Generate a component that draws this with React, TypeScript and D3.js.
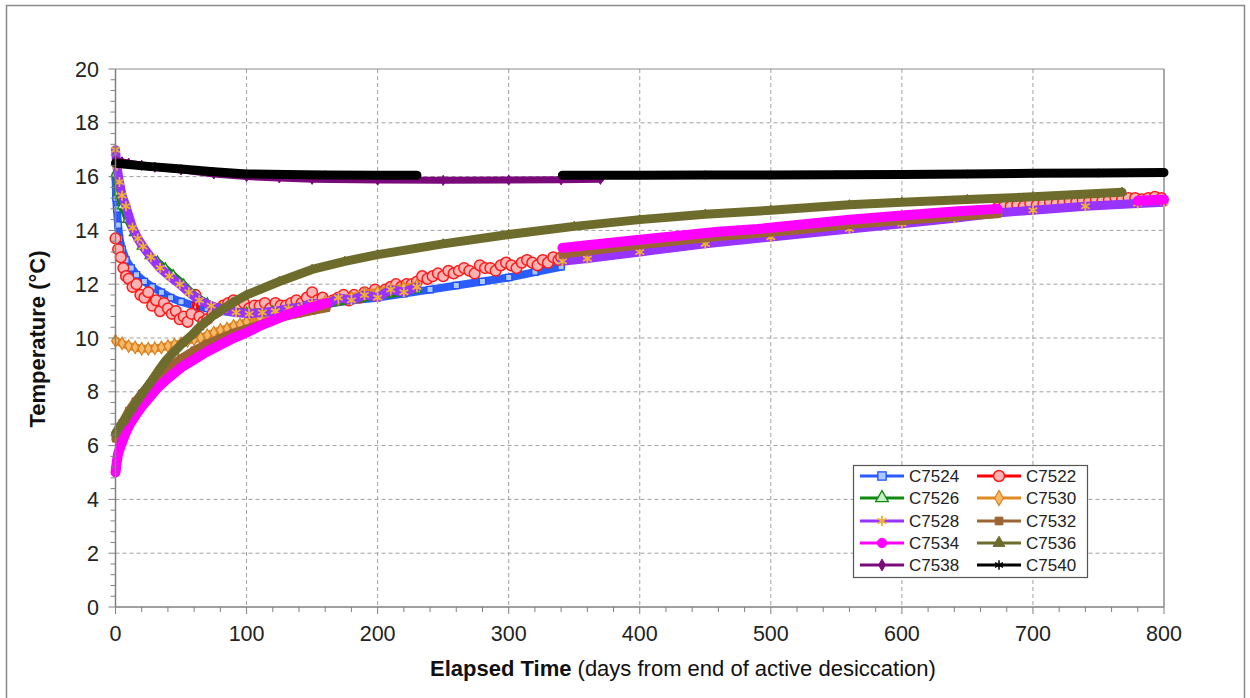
import React from "react";
import * as d3 from "d3";

type Pt = [number, number] | null;

// ---------- data (day, °C); null = logger gap ----------
const xTickValues = [0, 100, 200, 300, 400, 500, 600, 700, 800];
const yTickValues = [0, 2, 4, 6, 8, 10, 12, 14, 16, 18, 20];

const C7524: Pt[] = [
  [0, 16.0], [0.5, 15.2], [1, 14.8], [2, 14.2], [3, 13.7], [5, 13.3], [8, 12.9], [12, 12.6], [16, 12.35],
  [22, 12.1], [28, 11.9], [35, 11.7], [42, 11.5], [50, 11.35], [60, 11.2], [70, 11.1], [80, 11.0],
  [90, 10.95], [100, 10.95], [120, 11.0], [140, 11.1], [160, 11.25], [180, 11.4], [200, 11.5],
  [220, 11.65], [240, 11.8], [260, 11.95], [280, 12.1], [300, 12.25], [320, 12.45], [340, 12.65],
];

const C7522: Pt[] = [
  [0, 13.7], [2, 13.3], [4, 13.0], [6, 12.6], [8, 12.3], [10, 12.2], [13, 11.9], [16, 12.0], [19, 11.6],
  [22, 11.5], [25, 11.7], [28, 11.2], [31, 11.4], [34, 11.0], [37, 11.3], [40, 11.1], [43, 10.9],
  [46, 11.0], [49, 10.7], [52, 10.8], [55, 10.6], [58, 10.9], [61, 11.6], [64, 10.8], [67, 10.6],
  [70, 10.7], [74, 10.9], [78, 11.0], [82, 11.2], [86, 11.3], [90, 11.4], [94, 11.1], [98, 11.3],
  [102, 11.1], [106, 11.2], [110, 11.2], [114, 11.3], [118, 11.1], [122, 11.3], [126, 11.2], [130, 11.2],
  [134, 11.3], [138, 11.4], [142, 11.3], [146, 11.5], [150, 11.7], [154, 11.4], [158, 11.5], [162, 11.3],
  [166, 11.4], [170, 11.5], [174, 11.6], [178, 11.4], [182, 11.6], [186, 11.5], [190, 11.7], [194, 11.6],
  [198, 11.8], [202, 11.7], [206, 11.8], [210, 11.9], [214, 12.0], [218, 11.9], [222, 12.0], [226, 12.0],
  [230, 12.1], [234, 12.3], [238, 12.2], [242, 12.3], [246, 12.4], [250, 12.3], [254, 12.5], [258, 12.4],
  [262, 12.5], [266, 12.6], [270, 12.5], [274, 12.4], [278, 12.7], [282, 12.6], [286, 12.6], [290, 12.5],
  [294, 12.7], [298, 12.8], [302, 12.7], [306, 12.6], [310, 12.8], [314, 12.9], [318, 12.8], [322, 12.7],
  [326, 12.9], [330, 12.8], [334, 13.0], [338, 12.9], [340, 13.0],
  null,
  [673, 14.85], [678, 14.9], [683, 14.9], [688, 14.95], [693, 14.9], [698, 15.0], [703, 14.95],
  [708, 15.0], [713, 15.05], [718, 15.0], [723, 15.05], [728, 15.1], [733, 15.05], [738, 15.1],
  [743, 15.1], [748, 15.15], [753, 15.1], [758, 15.15], [763, 15.2], [768, 15.15], [773, 15.2],
  [778, 15.2], [783, 15.15], [788, 15.2], [793, 15.25], [798, 15.2],
];

const C7526: Pt[] = [
  [0, 16.1], [2, 15.4], [5, 14.9], [9, 14.4], [14, 13.9], [20, 13.4], [26, 13.05], [32, 12.85],
  [38, 12.6], [44, 12.35], [52, 12.0], [60, 11.6], [70, 11.3], [80, 11.1], [90, 11.0], [100, 10.95],
  [120, 11.0], [140, 11.1], [160, 11.25], [180, 11.4], [200, 11.55], [220, 11.7], [230, 11.8],
];

const C7530: Pt[] = [
  [0, 9.9], [5, 9.8], [10, 9.7], [15, 9.65], [20, 9.6], [25, 9.6], [30, 9.62], [35, 9.65], [40, 9.7],
  [45, 9.75], [50, 9.8], [55, 9.9], [60, 9.95], [65, 10.0], [70, 10.1], [75, 10.2], [80, 10.3],
  [85, 10.35], [90, 10.45], [95, 10.5], [100, 10.6], [110, 10.75], [120, 10.9], [130, 11.0],
  [140, 11.1], [150, 11.25], [160, 11.35], [170, 11.45], [180, 11.5], [190, 11.65], [200, 11.7],
  [210, 11.8], [220, 11.85], [230, 11.95],
];

const C7528: Pt[] = [
  [0, 17.0], [1, 16.4], [3, 15.8], [5, 15.3], [8, 14.9], [13, 14.1], [17, 13.7], [21, 13.4], [27, 13.0],
  [34, 12.6], [41, 12.3], [49, 12.0], [56, 11.7], [64, 11.4], [73, 11.2], [82, 11.05], [92, 10.95],
  [102, 10.9], [112, 10.95], [122, 11.0], [132, 11.1], [142, 11.15], [150, 11.3], [160, 11.2],
  [170, 11.5], [180, 11.4], [190, 11.6], [200, 11.5], [210, 11.8], [220, 11.7], [230, 11.9],
  null,
  [341, 12.85], [360, 12.95], [400, 13.2], [450, 13.5], [500, 13.75], [560, 14.05], [600, 14.25],
  [640, 14.45], [673, 14.65], [700, 14.75], [740, 14.9], [780, 15.0], [800, 15.05],
];

const C7532: Pt[] = [
  [0, 6.25], [2, 6.5], [5, 6.85], [10, 7.3], [15, 7.65], [20, 7.95], [26, 8.3], [33, 8.6], [40, 8.9],
  [50, 9.25], [60, 9.55], [70, 9.8], [80, 10.0], [90, 10.2], [100, 10.35], [110, 10.5], [120, 10.65],
  [130, 10.8], [140, 10.9], [150, 11.0], [161, 11.1],
  null,
  [341, 13.1], [400, 13.45], [460, 13.75], [520, 14.0], [560, 14.2], [600, 14.35], [640, 14.5], [673, 14.6],
];

const C7534: Pt[] = [
  [0, 5.0], [1, 5.4], [2, 5.7], [4, 6.0], [6, 6.25], [8, 6.5], [11, 6.8], [15, 7.1], [20, 7.45],
  [26, 7.8], [32, 8.15], [40, 8.5], [50, 8.9], [60, 9.2], [70, 9.5], [80, 9.75], [90, 10.0],
  [100, 10.2], [110, 10.45], [120, 10.65], [130, 10.85], [140, 11.0], [150, 11.15], [161, 11.3],
  null,
  [341, 13.35], [360, 13.45], [380, 13.55], [400, 13.65], [430, 13.8], [460, 13.95], [490, 14.05],
  [520, 14.2], [560, 14.4], [600, 14.55], [640, 14.7], [673, 14.8],
  null,
  [780, 15.1], [790, 15.12], [800, 15.15],
];

const C7536: Pt[] = [
  [0, 6.45], [3, 6.7], [7, 6.95], [13, 7.4], [20, 7.9], [26, 8.3], [33, 8.8], [39, 9.2], [45, 9.5],
  [51, 9.8], [58, 10.1], [64, 10.4], [75, 10.85], [89, 11.3], [100, 11.6], [125, 12.1], [150, 12.55],
  [175, 12.85], [200, 13.1], [250, 13.5], [300, 13.85], [350, 14.15], [400, 14.4], [450, 14.6],
  [500, 14.75], [560, 14.95], [600, 15.05], [650, 15.15], [700, 15.25], [768, 15.42],
];

const C7538: Pt[] = [
  [0, 16.6], [5, 16.55], [10, 16.5], [20, 16.42], [30, 16.35], [50, 16.25], [75, 16.1], [100, 16.0],
  [125, 15.95], [150, 15.9], [200, 15.87], [250, 15.86], [300, 15.87], [340, 15.88], [370, 15.9],
];

const C7540: Pt[] = [
  [0, 16.5], [10, 16.45], [25, 16.38], [50, 16.28], [75, 16.18], [100, 16.1], [130, 16.08],
  [160, 16.06], [200, 16.05], [230, 16.05],
  null,
  [341, 16.05], [400, 16.05], [450, 16.06], [500, 16.06], [550, 16.07], [600, 16.08], [650, 16.1],
  [700, 16.12], [750, 16.13], [800, 16.15],
];

type Style = {
  name: string;
  data: Pt[];
  line: string;
  lw: number;
  symbol: d3.SymbolType;
  size: number;
  lsize: number;
  fill: string;
  stroke: string;
  sw: number;
};

const series: Style[] = [
  { name: "C7524", data: C7524, line: "#2a5cff", lw: 8, symbol: d3.symbolSquare, size: 40, lsize: 70, fill: "#a9c9ff", stroke: "#1f4fff", sw: 1.3 },
  { name: "C7522", data: C7522, line: "#ff0000", lw: 3, symbol: d3.symbolCircle, size: 90, lsize: 95, fill: "#ffb4b4", stroke: "#ff1a1a", sw: 1.5 },
  { name: "C7526", data: C7526, line: "#108a10", lw: 7, symbol: d3.symbolTriangle, size: 35, lsize: 70, fill: "#c8f0c8", stroke: "#108a10", sw: 1.3 },
  { name: "C7530", data: C7530, line: "#e08a22", lw: 8, symbol: d3.symbolDiamond, size: 45, lsize: 65, fill: "#f7b868", stroke: "#d98020", sw: 1.2 },
  { name: "C7528", data: C7528, line: "#9933ff", lw: 9, symbol: d3.symbolAsterisk, size: 70, lsize: 75, fill: "none", stroke: "#f0b030", sw: 1.8 },
  { name: "C7532", data: C7532, line: "#9b6532", lw: 8, symbol: d3.symbolSquare, size: 40, lsize: 60, fill: "#9b6532", stroke: "#9b6532", sw: 1 },
  { name: "C7534", data: C7534, line: "#ff00ff", lw: 10, symbol: d3.symbolCircle, size: 50, lsize: 70, fill: "#ff00ff", stroke: "#ff00ff", sw: 1 },
  { name: "C7536", data: C7536, line: "#6e6c2c", lw: 9, symbol: d3.symbolTriangle, size: 35, lsize: 60, fill: "#6e6c2c", stroke: "#6e6c2c", sw: 1 },
  { name: "C7538", data: C7538, line: "#7a0a7a", lw: 7, symbol: d3.symbolDiamond, size: 30, lsize: 40, fill: "#7a0a7a", stroke: "#7a0a7a", sw: 1 },
  { name: "C7540", data: C7540, line: "#000000", lw: 9, symbol: d3.symbolAsterisk, size: 50, lsize: 60, fill: "none", stroke: "#000000", sw: 1.5 },
];

const W = 1250;
const H = 698;
const P = { left: 115.5, right: 1164, top: 69, bottom: 607 };
const FONT = "Arial, 'Liberation Sans', Helvetica, sans-serif";

export default function App() {
  const x = d3.scaleLinear().domain([0, 800]).range([P.left, P.right]);
  const y = d3.scaleLinear().domain([0, 20]).range([P.bottom, P.top]);
  const line = d3
    .line<Pt>()
    .defined((d) => d !== null)
    .x((d) => x((d as [number, number])[0]))
    .y((d) => y((d as [number, number])[1]));

  const xMinor = d3.range(0, 801, 20).filter((v) => v % 100 !== 0);
  const yMinor = d3
    .range(0, 20.001, 0.4)
    .map((v) => +v.toFixed(1))
    .filter((v) => Math.abs(v / 2 - Math.round(v / 2)) > 1e-6);

  const legendRows = [476, 498, 521, 543, 565];
  const legendCols = [
    { x1: 860, x2: 904, tx: 909 },
    { x1: 977, x2: 1021, tx: 1026 },
  ];

  return (
    <div style={{ position: "absolute", left: 0, top: 0 }}>
      <svg width={W} height={H} style={{ display: "block", background: "#fff" }} fontFamily={FONT}>
        <rect x={6.5} y={5.5} width={1238} height={720} fill="#fff" stroke="#8a8a8a" strokeWidth={1.5} />

        {/* gridlines */}
        {xTickValues.filter((v) => v !== 0 && v !== 800).map((v) => (
          <line key={"gx" + v} x1={x(v)} x2={x(v)} y1={P.top} y2={P.bottom} stroke="#a0a0a0" strokeWidth={1} strokeDasharray="4,3" />
        ))}
        {yTickValues.filter((v) => v !== 0 && v !== 20).map((v) => (
          <line key={"gy" + v} x1={P.left} x2={P.right} y1={y(v)} y2={y(v)} stroke="#a0a0a0" strokeWidth={1} strokeDasharray="4,3" />
        ))}

        {/* plot frame */}
        <line x1={P.left} x2={P.right} y1={P.top} y2={P.top} stroke="#8c8c8c" strokeWidth={1} />
        <line x1={P.right} x2={P.right} y1={P.top} y2={P.bottom} stroke="#8c8c8c" strokeWidth={1.5} />

        {/* series */}
        {series.map((s) => (
          <g key={s.name}>
            <path d={line(s.data) || ""} fill="none" stroke={s.line} strokeWidth={s.lw} strokeLinejoin="round" strokeLinecap="round" />
            {s.data
              .filter((d): d is [number, number] => d !== null)
              .map((d, i) => (
                <path
                  key={i}
                  d={d3.symbol(s.symbol, s.size)() || ""}
                  transform={`translate(${x(d[0])},${y(d[1])})`}
                  fill={s.fill}
                  stroke={s.stroke}
                  strokeWidth={s.sw}
                />
              ))}
          </g>
        ))}

        {/* axes */}
        <line x1={P.left} x2={P.left} y1={P.top} y2={P.bottom} stroke="#808080" strokeWidth={1.5} />
        <line x1={P.left} x2={P.right} y1={P.bottom} y2={P.bottom} stroke="#808080" strokeWidth={1.5} />
        {yTickValues.map((v) => (
          <g key={"yt" + v}>
            <line x1={P.left - 7} x2={P.left} y1={y(v)} y2={y(v)} stroke="#808080" strokeWidth={1} />
            <text x={99} y={y(v)} dy="0.35em" textAnchor="end" fontSize={21.5} fill="#222">{v}</text>
          </g>
        ))}
        {yMinor.map((v) => (
          <line key={"ym" + v} x1={P.left - 5} x2={P.left} y1={y(v)} y2={y(v)} stroke="#808080" strokeWidth={1} />
        ))}
        {xTickValues.map((v) => (
          <g key={"xt" + v}>
            <line x1={x(v)} x2={x(v)} y1={P.bottom} y2={P.bottom + 7} stroke="#808080" strokeWidth={1} />
            <text x={x(v)} y={641} textAnchor="middle" fontSize={21.5} fill="#222">{v}</text>
          </g>
        ))}
        {xMinor.map((v) => (
          <line key={"xm" + v} x1={x(v)} x2={x(v)} y1={P.bottom} y2={P.bottom + 5} stroke="#808080" strokeWidth={1} />
        ))}

        {/* axis titles */}
        <text x={430} y={676} fontSize={22} fill="#111">
          <tspan fontWeight="bold">Elapsed Time</tspan>
          <tspan> (days from end of active desiccation)</tspan>
        </text>
        <text transform="translate(45,339) rotate(-90)" textAnchor="middle" fontSize={22} fontWeight="bold" fill="#111">
          Temperature (°C)
        </text>

        {/* legend */}
        <rect x={853.5} y={465.5} width={234} height={112} fill="#fff" stroke="#555" strokeWidth={1.2} />
        {series.map((s, i) => {
          const col = legendCols[i % 2];
          const ry = legendRows[Math.floor(i / 2)];
          const mx = (col.x1 + col.x2) / 2;
          return (
            <g key={"lg" + s.name}>
              <line x1={col.x1} x2={col.x2} y1={ry} y2={ry} stroke={s.line} strokeWidth={3} />
              <path
                d={d3.symbol(s.symbol, s.lsize)() || ""}
                transform={`translate(${mx},${ry})`}
                fill={s.fill}
                stroke={s.stroke}
                strokeWidth={s.sw}
              />
              <text x={col.tx} y={ry} dy="0.36em" fontSize={17} fill="#222">{s.name}</text>
            </g>
          );
        })}
      </svg>
    </div>
  );
}
